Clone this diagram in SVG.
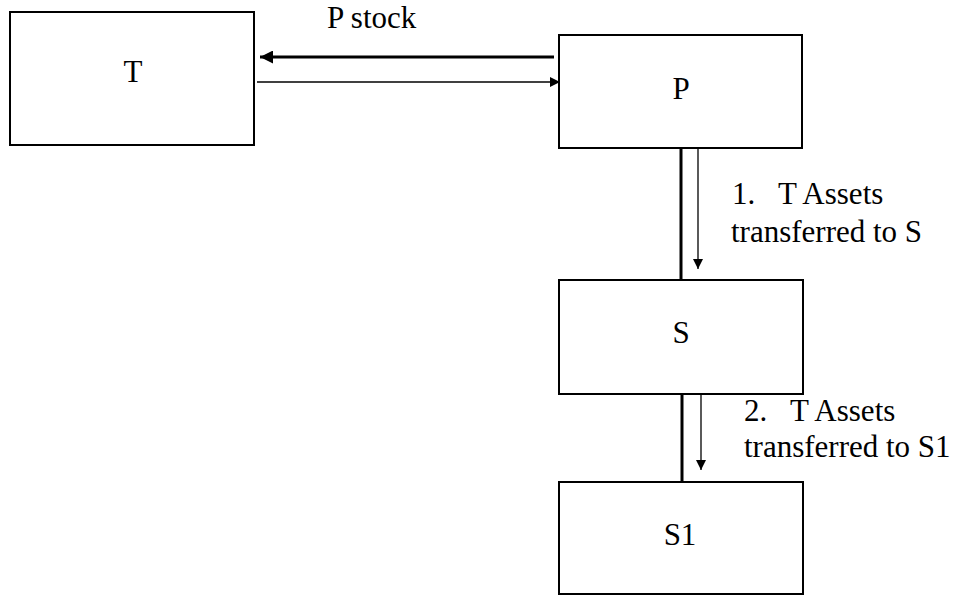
<svg xmlns="http://www.w3.org/2000/svg" width="956" height="595" viewBox="0 0 956 595" font-family="'Liberation Serif', 'Times New Roman', Times, serif">
<style>
.box{fill:#fff;stroke:#000;stroke-width:2}
.lbl{font-family:'Liberation Serif','Times New Roman',Times,serif;font-size:31px;fill:#000}
.c{text-anchor:middle}
.thick{stroke:#000;stroke-width:3;fill:none}
.thin{stroke:#000;stroke-width:1.3;fill:none}
</style>
<defs>
<marker id="ah" viewBox="0 0 10 10" refX="10" refY="5" markerUnits="userSpaceOnUse" markerWidth="14" markerHeight="13" orient="auto"><path d="M0,0 L10,5 L0,10 Z" fill="#000"/></marker>
<marker id="ahs" viewBox="0 0 10 10" refX="10" refY="5" markerUnits="userSpaceOnUse" markerWidth="10" markerHeight="11" orient="auto"><path d="M0,0 L10,5 L0,10 Z" fill="#000"/></marker>
</defs>
<g id="connectors">
<line class="thick" x1="554" y1="57" x2="260" y2="57" marker-end="url(#ah)"/>
<line class="thin" x1="257" y1="82" x2="560" y2="82" marker-end="url(#ahs)"/>
<line class="thick" x1="681" y1="148" x2="681" y2="280"/>
<line class="thin" x1="698" y1="148" x2="698" y2="269" marker-end="url(#ahs)"/>
<line class="thick" x1="682" y1="394" x2="682" y2="482"/>
<line class="thin" x1="701" y1="394" x2="701" y2="470" marker-end="url(#ahs)"/>
<text class="lbl" x="327" y="28">P stock</text>
<text class="lbl" x="732" y="204" xml:space="preserve">1.   T Assets</text>
<text class="lbl" x="731" y="242">transferred to S</text>
<text class="lbl" x="744" y="421" xml:space="preserve">2.   T Assets</text>
<text class="lbl" x="744" y="457">transferred to S1</text>
</g>
<g id="node-T">
<rect class="box" x="10" y="12" width="244" height="133"/>
<text class="lbl c" x="133" y="82">T</text>
</g>
<g id="node-P">
<rect class="box" x="559" y="35" width="243" height="113"/>
<text class="lbl c" x="681" y="99">P</text>
</g>
<g id="node-S">
<rect class="box" x="559" y="280" width="244" height="114"/>
<text class="lbl c" x="681" y="343">S</text>
</g>
<g id="node-S1">
<rect class="box" x="559" y="482" width="244" height="112"/>
<text class="lbl c" x="680" y="545">S1</text>
</g>
</svg>
